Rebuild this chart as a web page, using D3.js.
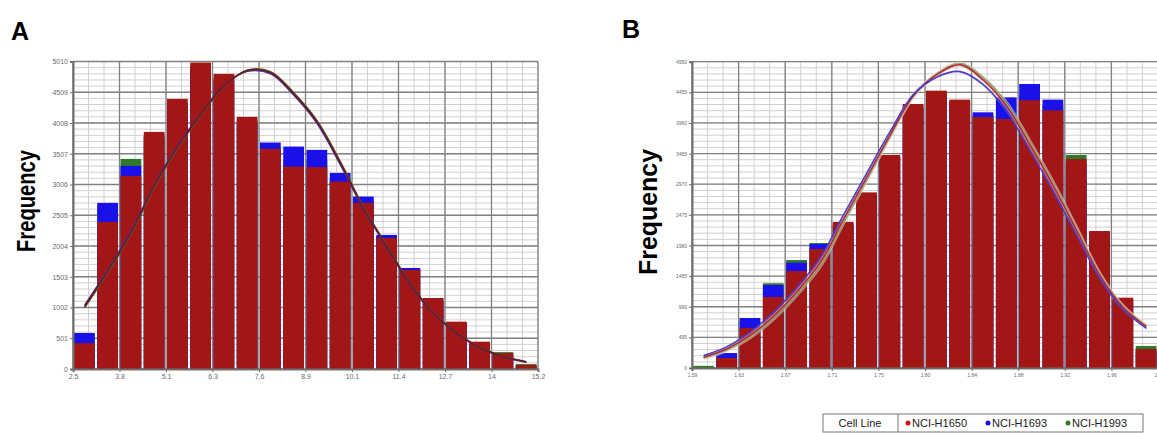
<!DOCTYPE html>
<html>
<head>
<meta charset="utf-8">
<script src="https://cdn.jsdelivr.net/npm/d3@7"></script>
<style>
  body { margin: 0; background: #fff; }
  svg { display: block; font-family: "Liberation Sans", Arial, sans-serif; }
</style>
</head>
<body>
<div id="container"></div>
<script>
// bins are indexed 0..19, x ticks sit on every second bin edge
const aTickX = ["2.5", "3.8", "5.1", "6.3", "7.6", "8.9", "10.1", "11.4", "12.7", "14", "15.2"];
const aTickY = [0, 501, 1002, 1503, 2004, 2505, 3006, 3507, 4008, 4509, 5010];
const aH1650 = [420, 2396, 3146, 3863, 4401, 4993, 4808, 4108, 3586, 3298, 3290, 3054, 2706, 2135, 1614, 1157, 771, 445, 260, 65];
const aH1693 = [587, 2706, 3309, 3780, 4300, 4900, 4700, 4000, 3690, 3624, 3570, 3194, 2810, 2184, 1646, 1100, 740, 420, 240, 50];
const aH1993 = [560, 2650, 3423, 3800, 4350, 4950, 4750, 4050, 3600, 3400, 3400, 3100, 2750, 2150, 1630, 1130, 760, 430, 275, 80];
const aFit1650 = [1015, 1597, 2223, 2983, 3619, 4148, 4613, 4862, 4830, 4482, 4026, 3358, 2618, 1997, 1385, 913, 587, 347, 205, 114];
const aFit1693 = [1040, 1620, 2250, 3000, 3640, 4160, 4620, 4850, 4810, 4460, 4000, 3330, 2600, 1980, 1370, 905, 580, 342, 200, 110];
const aFit1993 = [995, 1575, 2200, 2960, 3600, 4135, 4605, 4870, 4845, 4500, 4045, 3380, 2635, 2010, 1395, 920, 592, 350, 208, 118];

const bTickX = ["1.59", "1.63", "1.67", "1.71", "1.75", "1.80", "1.84", "1.88", "1.92", "1.96", "2"];
const bTickY = [0, 495, 990, 1485, 1980, 2475, 2970, 3465, 3960, 4455, 4950];
const bH1650 = [0, 162, 646, 1147, 1567, 1923, 2360, 2838, 3442, 4267, 4482, 4337, 4056, 4024, 4326, 4164, 3378, 2214, 1136, 307];
const bH1693 = [0, 242, 808, 1341, 1702, 2004, 2300, 2780, 3400, 4200, 4400, 4300, 4132, 4374, 4590, 4337, 3300, 2150, 1100, 280];
const bH1993 = [35, 200, 750, 1370, 1745, 2020, 2330, 2800, 3420, 4230, 4450, 4310, 4080, 4100, 4400, 4250, 3442, 2190, 1120, 355];
const bFit1650 = [172, 310, 529, 835, 1228, 1698, 2400, 3082, 3765, 4400, 4740, 4900, 4654, 4233, 3608, 2949, 2230, 1499, 980, 667];
const bFit1693 = [200, 345, 580, 900, 1300, 1780, 2470, 3150, 3820, 4420, 4700, 4790, 4580, 4150, 3520, 2860, 2160, 1450, 950, 640];
const bFit1993 = [160, 290, 500, 800, 1190, 1650, 2350, 3040, 3740, 4390, 4750, 4920, 4690, 4280, 3650, 2990, 2260, 1520, 995, 680];

const legendItems = ["NCI-H1650", "NCI-H1693", "NCI-H1993"];
const legendColors = ["#d01818", "#1a10e8", "#2f7a2a"];

const width = 1157;
const height = 433;

const svg = d3.select("#container").append("svg")
  .attr("width", width)
  .attr("height", height);

function drawPanel(p) {
  const x = d3.scaleLinear().domain([0, 20]).range([p.left, p.right]);
  const y = d3.scaleLinear().domain([0, p.yTicks[p.yTicks.length - 1]]).range([p.bottom, p.top]);
  const g = svg.append("g");
  const yStep = p.yTicks[1];

  // minor grid
  g.append("g").selectAll("line")
    .data(d3.range(0, 20.01, 2 / 3))
    .join("line")
    .attr("x1", d => x(d)).attr("x2", d => x(d))
    .attr("y1", p.top).attr("y2", p.bottom)
    .attr("stroke", "#d0d0d0").attr("stroke-width", 1);
  g.append("g").selectAll("line")
    .data(d3.range(0, p.yTicks[p.yTicks.length - 1] + 1, yStep / 5))
    .join("line")
    .attr("x1", p.left).attr("x2", p.right)
    .attr("y1", d => y(d)).attr("y2", d => y(d))
    .attr("stroke", "#d0d0d0").attr("stroke-width", 1);

  // major grid
  g.append("g").selectAll("line")
    .data(d3.range(0, 21, 2))
    .join("line")
    .attr("x1", d => x(d)).attr("x2", d => x(d))
    .attr("y1", p.top).attr("y2", p.bottom)
    .attr("stroke", "#808080").attr("stroke-width", 1.3);
  g.append("g").selectAll("line")
    .data(p.yTicks)
    .join("line")
    .attr("x1", p.left).attr("x2", p.right)
    .attr("y1", d => y(d)).attr("y2", d => y(d))
    .attr("stroke", "#808080").attr("stroke-width", 1.3);

  // overlaid histograms: back to front
  const layers = [
    { data: p.h1993, fill: "#2f7a2a" },
    { data: p.h1693, fill: "#1a10e8" },
    { data: p.h1650, fill: "#a31616" }
  ];
  layers.forEach(layer => {
    g.append("g").selectAll("rect")
      .data(layer.data)
      .join("rect")
      .attr("x", (d, i) => x(i) + 1)
      .attr("width", (d, i) => x(i + 1) - x(i) - 2.5)
      .attr("y", d => y(d))
      .attr("height", d => y(0) - y(d))
      .attr("fill", layer.fill);
  });

  // fitted curves
  const line = d3.line()
    .x((d, i) => x(i + 0.5))
    .y(d => y(d))
    .curve(d3.curveCatmullRom);
  p.fits.forEach(f => {
    if (f.halo) {
      g.append("path").datum(f.data)
        .attr("d", line).attr("fill", "none")
        .attr("stroke", f.halo).attr("stroke-width", 4).attr("opacity", 0.6);
    }
    g.append("path").datum(f.data)
      .attr("d", line).attr("fill", "none")
      .attr("stroke", f.color).attr("stroke-width", 1.6);
  });

  // axes
  const yAxis = d3.axisLeft(y).tickValues(p.yTicks).tickFormat(d => String(d))
    .tickSize(3).tickPadding(2);
  const gy = g.append("g").attr("transform", `translate(${p.left},0)`).call(yAxis);
  const xAxis = d3.axisBottom(x).tickValues(d3.range(0, 21, 2))
    .tickFormat((d, i) => p.xTicks[i]).tickSize(3).tickPadding(2);
  const gx = g.append("g").attr("transform", `translate(0,${p.bottom})`).call(xAxis);
  [gx, gy].forEach(a => {
    a.select(".domain").attr("stroke", "#6e6e6e").attr("stroke-width", 2);
    a.selectAll(".tick line").attr("stroke", "#6e6e6e");
    a.selectAll(".tick text").attr("fill", "#6a6a6a")
      .style("font-size", p.tickFont).style("font-family", "Liberation Sans, Arial, sans-serif");
  });
  if (p.lastTickEnd) {
    gx.selectAll(".tick text").filter((d, i) => i === p.xTicks.length - 1)
      .attr("text-anchor", "end").attr("dx", "-1");
  }

  // panel letter and y title
  svg.append("text")
    .attr("x", p.letterX).attr("y", p.letterY)
    .attr("font-size", 25).attr("font-weight", "bold")
    .text(p.letter);
  svg.append("text")
    .attr("transform", `translate(${p.titleX},${p.titleY}) rotate(-90)`)
    .attr("text-anchor", "middle")
    .attr("font-size", 26).attr("font-weight", "bold")
    .attr("textLength", p.titleLen).attr("lengthAdjust", "spacingAndGlyphs")
    .text("Frequency");
}

drawPanel({
  letter: "A", letterX: 11, letterY: 40,
  titleX: 35, titleY: 201, titleLen: 102,
  left: 73, right: 538, top: 61.5, bottom: 369,
  xTicks: aTickX, yTicks: aTickY, tickFont: "7px",
  h1650: aH1650, h1693: aH1693, h1993: aH1993,
  fits: [
    { data: aFit1993, color: "#5c6b2c" },
    { data: aFit1693, color: "#4b2ea8" },
    { data: aFit1650, color: "#6a1c1c" }
  ]
});

drawPanel({
  letter: "B", letterX: 622, letterY: 38,
  titleX: 657, titleY: 212, titleLen: 126,
  left: 692, right: 1158, top: 61.7, bottom: 368,
  xTicks: bTickX, yTicks: bTickY, tickFont: "5px", lastTickEnd: true,
  h1650: bH1650, h1693: bH1693, h1993: bH1993,
  fits: [
    { data: bFit1993, color: "#4f7f3f", halo: "#cfe0c0" },
    { data: bFit1650, color: "#a83030", halo: "#f0b8b8" },
    { data: bFit1693, color: "#4a3cc8" }
  ]
});

// legend
const legend = svg.append("g").attr("transform", "translate(823,414)");
legend.append("rect").attr("width", 320).attr("height", 18)
  .attr("fill", "#fff").attr("stroke", "#777");
legend.append("line").attr("x1", 75).attr("x2", 75).attr("y1", 0).attr("y2", 18)
  .attr("stroke", "#777");
legend.append("text").attr("x", 37).attr("y", 13).attr("text-anchor", "middle")
  .attr("font-size", 11).attr("fill", "#222").text("Cell Line");
const itemX = d3.scaleBand().domain(legendItems).range([80, 320]);
const item = legend.selectAll("g.item").data(legendItems).join("g")
  .attr("transform", d => `translate(${itemX(d)},0)`);
item.append("circle").attr("cx", 5).attr("cy", 9).attr("r", 2.5)
  .attr("fill", (d, i) => legendColors[i]);
item.append("text").attr("x", 9).attr("y", 13)
  .attr("font-size", 11).attr("fill", "#222").text(d => d);
</script>
</body>
</html>
